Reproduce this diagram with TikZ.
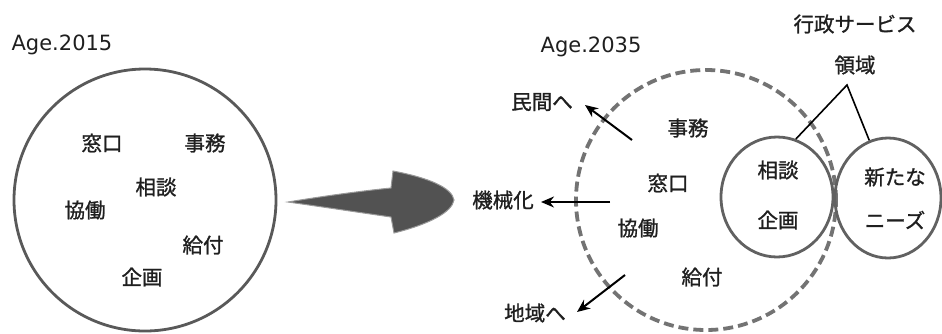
\documentclass[tikz,border=0pt]{standalone}
\usepackage{fontspec}
\setmainfont{DejaVu Sans}
\newfontfamily\jpfont[FakeBold=1.2]{Noto Sans CJK JP}
\usetikzlibrary{arrows.meta,shapes.geometric}
\tikzset{
  jp/.style={font=\jpfont\fontsize{20.5}{22}\selectfont, text=black!88, inner sep=0pt},
  agelbl/.style={font=\fontsize{21}{24}\selectfont, text=black!88, inner sep=0pt},
  bigcirc/.style={circle, draw=black!65, line width=2.8pt, inner sep=0pt},
  dashcirc/.style={circle, draw=black!55, line width=3.8pt, dash pattern=on 10pt off 5pt, inner sep=0pt},
  smallell/.style={ellipse, draw=black!62, line width=2.8pt, inner sep=0pt},
  outarrow/.style={line width=2pt, -{Stealth[length=13pt,width=11pt]}},
  leader/.style={line width=1.6pt, black},
}
\begin{document}
\begin{tikzpicture}[x=1pt,y=-1pt]
\useasboundingbox (0,0) rectangle (942,333);
% left
\node[agelbl] (age1) at (62,45) {Age.2015};
\node[bigcirc, minimum size=262pt] (c1) at (145,200) {};
\node[jp] (l1) at (102,143) {窓口};
\node[jp] (l2) at (205,143) {事務};
\node[jp] (l3) at (156,187) {相談};
\node[jp] (l4) at (85,210) {協働};
\node[jp] (l5) at (203,245) {給付};
\node[jp] (l6) at (142,277) {企画};
% big arrow
\filldraw[fill=black!68, draw=black!40, line width=1pt]
  (288,202) .. controls (330,195) and (370,190) .. (391,188)
  -- (393,171)
  .. controls (430,178) and (452,188) .. (454,200)
  .. controls (452,212) and (430,224) .. (394,233)
  -- (391,217)
  .. controls (370,214) and (330,208) .. (288,202) -- cycle;
% right
\node[agelbl] (age2) at (591,47) {Age.2035};
\node[dashcirc, minimum size=260pt] (c2) at (706,200) {};
\node[smallell, minimum width=112pt, minimum height=120pt] (s1) at (777,197) {};
\node[smallell, minimum width=106pt, minimum height=120pt] (s2) at (888,198) {};
\node[jp] (t1) at (855,24) {行政サービス};
\node[jp] (t2) at (855,65) {領域};
\coordinate (apex) at (847,85);
\draw[leader] (s1.72) -- (apex) -- (s2.108);
\node[jp] (r1) at (778,170) {相談};
\node[jp] (r2) at (778,220) {企画};
\node[jp] (r3) at (895,177) {新たな};
\node[jp] (r4) at (895,220) {ニーズ};
\node[jp] (r5) at (688,128) {事務};
\node[jp] (r6) at (668,183) {窓口};
\node[jp] (r7) at (638,228) {協働};
\node[jp] (r8) at (702,277) {給付};
\node[jp] (o1) at (542,102) {民間へ};
\node[jp] (o2) at (503,200) {機械化};
\node[jp] (o3) at (535,313) {地域へ};
\coordinate (a1s) at (632,140);
\coordinate (a1e) at (585,105);
\coordinate (a2s) at (610,202);
\coordinate (a2e) at (541,202);
\coordinate (a3s) at (625,275);
\coordinate (a3e) at (577,312);
\draw[outarrow] (a1s) -- (a1e);
\draw[outarrow] (a2s) -- (a2e);
\draw[outarrow] (a3s) -- (a3e);
\end{tikzpicture}
\end{document}
